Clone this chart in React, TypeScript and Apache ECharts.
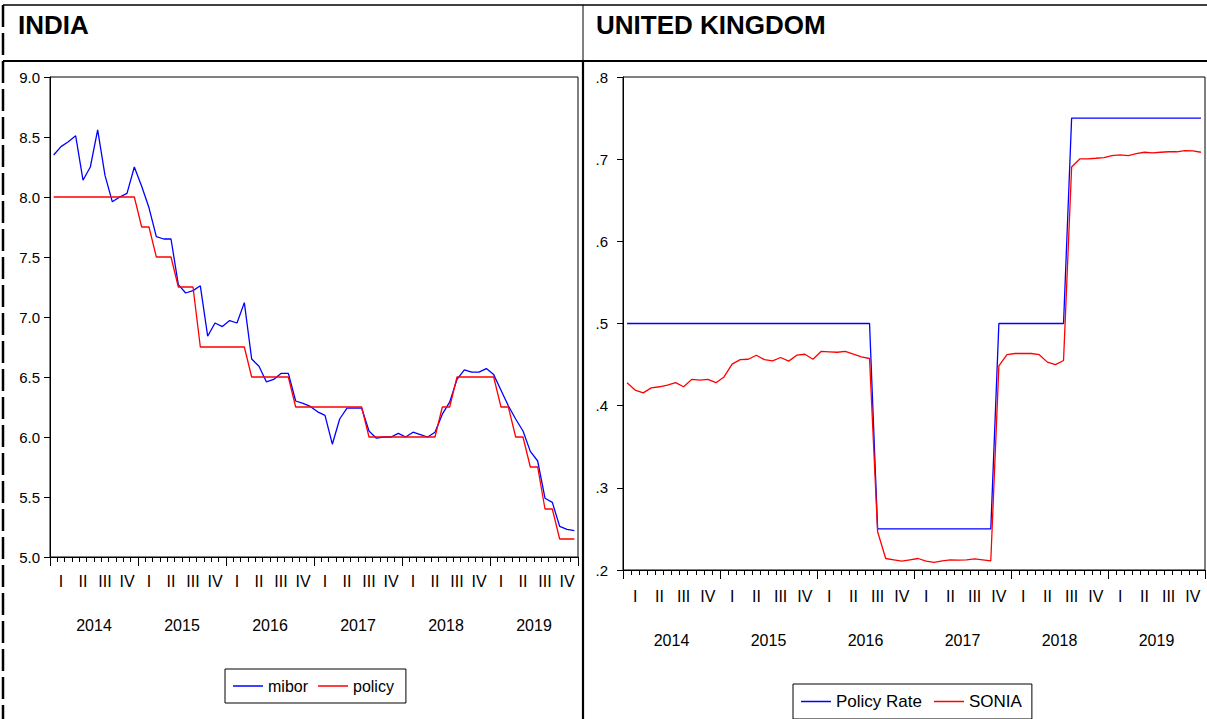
import React, { useEffect, useRef } from 'react';
import * as echarts from 'echarts';

const years = ['2014', '2015', '2016', '2017', '2018', '2019'];
const quarters = ['I', 'II', 'III', 'IV'];
const monthNames = ['Jan', 'Feb', 'Mar', 'Apr', 'May', 'Jun', 'Jul', 'Aug', 'Sep', 'Oct', 'Nov', 'Dec'];

const mibor = [
  8.35, 8.42, 8.46, 8.51, 8.14, 8.25, 8.56, 8.18, 7.96, 8.0, 8.03, 8.25,
  8.09, 7.91, 7.67, 7.65, 7.65, 7.27, 7.2, 7.22, 7.26, 6.84, 6.95, 6.92,
  6.97, 6.95, 7.12, 6.65, 6.59, 6.46, 6.48, 6.53, 6.53, 6.3, 6.28, 6.255,
  6.21, 6.18, 5.94, 6.15, 6.24, 6.24, 6.24, 6.05, 5.99, 6.0, 6.0, 6.03,
  6.0, 6.04, 6.02, 6.0, 6.04, 6.19, 6.29, 6.48, 6.56, 6.54, 6.54, 6.57,
  6.52, 6.39, 6.26, 6.15, 6.05, 5.88, 5.8, 5.49, 5.455, 5.255, 5.23, 5.22,
];
const policy = [
  8.0, 8.0, 8.0, 8.0, 8.0, 8.0, 8.0, 8.0, 8.0, 8.0, 8.0, 8.0,
  7.75, 7.75, 7.5, 7.5, 7.5, 7.25, 7.25, 7.25, 6.75, 6.75, 6.75, 6.75,
  6.75, 6.75, 6.75, 6.5, 6.5, 6.5, 6.5, 6.5, 6.5, 6.25, 6.25, 6.25,
  6.25, 6.25, 6.25, 6.25, 6.25, 6.25, 6.25, 6.0, 6.0, 6.0, 6.0, 6.0,
  6.0, 6.0, 6.0, 6.0, 6.0, 6.25, 6.25, 6.5, 6.5, 6.5, 6.5, 6.5,
  6.5, 6.25, 6.25, 6.0, 6.0, 5.75, 5.75, 5.4, 5.4, 5.15, 5.15, 5.15,
];
const ukPolicyRate = [
  0.5, 0.5, 0.5, 0.5, 0.5, 0.5, 0.5, 0.5, 0.5, 0.5, 0.5, 0.5,
  0.5, 0.5, 0.5, 0.5, 0.5, 0.5, 0.5, 0.5, 0.5, 0.5, 0.5, 0.5,
  0.5, 0.5, 0.5, 0.5, 0.5, 0.5, 0.5, 0.25, 0.25, 0.25, 0.25, 0.25,
  0.25, 0.25, 0.25, 0.25, 0.25, 0.25, 0.25, 0.25, 0.25, 0.25, 0.5, 0.5,
  0.5, 0.5, 0.5, 0.5, 0.5, 0.5, 0.5, 0.75, 0.75, 0.75, 0.75, 0.75,
  0.75, 0.75, 0.75, 0.75, 0.75, 0.75, 0.75, 0.75, 0.75, 0.75, 0.75, 0.75,
];
const sonia = [
  0.428, 0.419, 0.4156, 0.4217, 0.423, 0.425, 0.428, 0.423, 0.432, 0.431, 0.432, 0.428,
  0.435, 0.4505, 0.456, 0.4565, 0.4614, 0.456, 0.4546, 0.4586, 0.4542, 0.4614, 0.4626, 0.4565,
  0.466, 0.4655, 0.465, 0.466, 0.4626, 0.4594, 0.4574, 0.2465, 0.214, 0.2124, 0.2108, 0.2124,
  0.214, 0.2108, 0.2092, 0.211, 0.2124, 0.212, 0.2124, 0.2135, 0.2124, 0.2112, 0.4484, 0.4622,
  0.4635, 0.4635, 0.4635, 0.462, 0.453, 0.45, 0.455, 0.6905, 0.7003, 0.7003, 0.7011, 0.702,
  0.7044, 0.7052, 0.7044, 0.7068, 0.7084, 0.7076, 0.7084, 0.709, 0.709, 0.7105, 0.71, 0.7084,
];

const months = years.flatMap((y) => monthNames.map((m) => `${m} ${y}`));
const quarterCats = years.flatMap((y) => quarters.map((q) => `${q}|${y}`));

const LAB_FONT = "'Liberation Sans', Arial, sans-serif";
const NUM_FONT = "'Liberation Sans', Arial, sans-serif";
const TITLE_FONT = "'Liberation Sans', Arial, sans-serif";

function makeXAxes(gridIndex: number, qMargin: number, yMargin: number) {
  return [
    {
      type: 'category', gridIndex, data: months, boundaryGap: true, position: 'bottom',
      axisLine: { show: true, onZero: false, lineStyle: { color: '#000', width: 1 } },
      axisTick: { show: true, interval: 0, length: 5, lineStyle: { color: '#000', width: 1 } },
      axisLabel: { show: false }, splitLine: { show: false },
    },
    {
      type: 'category', gridIndex, data: quarterCats, boundaryGap: true, position: 'bottom',
      axisLine: { show: false, onZero: false }, axisTick: { show: false }, splitLine: { show: false },
      axisLabel: {
        interval: 0, margin: qMargin, color: '#000', fontFamily: LAB_FONT, fontSize: 16,
        formatter: (v: string) => v.split('|')[0],
      },
    },
    {
      type: 'category', gridIndex, data: years, boundaryGap: true, position: 'bottom',
      axisLine: { show: false, onZero: false }, splitLine: { show: false },
      axisTick: { show: true, interval: 0, length: 9, lineStyle: { color: '#000', width: 1 } },
      axisLabel: { interval: 0, margin: yMargin, color: '#000', fontFamily: LAB_FONT, fontSize: 16 },
    },
  ];
}

const legendBase = {
  orient: 'horizontal',
  icon: 'rect',
  itemWidth: 30,
  itemHeight: 1.5,
  itemGap: 10,
  padding: [9, 12, 9, 8],
  borderColor: '#000',
  borderWidth: 1,
  backgroundColor: '#fff',
  textStyle: { fontFamily: LAB_FONT, fontSize: 16, color: '#000' },
};

export default function App() {
  const ref = useRef<HTMLDivElement>(null);
  useEffect(() => {
    if (!ref.current) return;
    const chart = echarts.init(ref.current, null, { renderer: 'svg' });
    const option = {
      animation: false,
      backgroundColor: '#fff',
      title: [
        { text: 'INDIA', left: 18, top: 12, padding: 0, textStyle: { fontFamily: TITLE_FONT, fontWeight: 'bold', fontSize: 26, color: '#000' } },
        { text: 'UNITED KINGDOM', left: 596, top: 12, padding: 0, textStyle: { fontFamily: TITLE_FONT, fontWeight: 'bold', fontSize: 26, color: '#000' } },
      ],
      grid: [
        { left: 50, top: 77, width: 528, height: 480, show: true, borderColor: '#000', borderWidth: 1, containLabel: false },
        { left: 623, top: 77, width: 582, height: 493, show: true, borderColor: '#000', borderWidth: 1, containLabel: false },
      ],
      xAxis: [...makeXAxes(0, 16, 60), ...makeXAxes(1, 18, 62)],
      yAxis: [
        {
          type: 'value', gridIndex: 0, min: 5, max: 9, interval: 0.5,
          axisLine: { show: true, lineStyle: { color: '#000' } },
          axisTick: { show: true, length: 6, lineStyle: { color: '#000' } },
          splitLine: { show: false },
          axisLabel: { margin: 10, color: '#000', fontFamily: NUM_FONT, fontSize: 15, padding: [0, 0, 6, 0], formatter: (v: number) => v.toFixed(1) },
        },
        {
          type: 'value', gridIndex: 1, min: 0.2, max: 0.8, interval: 0.1,
          axisLine: { show: true, lineStyle: { color: '#000' } },
          axisTick: { show: true, length: 6, lineStyle: { color: '#000' } },
          splitLine: { show: false },
          axisLabel: { margin: 15, color: '#000', fontFamily: NUM_FONT, fontSize: 15, padding: [0, 0, 6, 0], formatter: (v: number) => v.toFixed(1).replace(/^0/, '') },
        },
      ],
      legend: [
        { ...legendBase, data: ['mibor', 'policy'], left: 225, top: 669 },
        {
          ...legendBase, data: ['Policy Rate', 'SONIA'], left: 793, top: 684,
          itemGap: 12, padding: [9, 10, 9, 8],
          textStyle: { fontFamily: LAB_FONT, fontSize: 17, color: '#000' },
        },
      ],
      series: [
        { name: 'mibor', type: 'line', xAxisIndex: 0, yAxisIndex: 0, data: mibor, symbol: 'none', showSymbol: false, lineStyle: { color: '#0000ff', width: 1.3 }, itemStyle: { color: '#0000ff' } },
        { name: 'policy', type: 'line', xAxisIndex: 0, yAxisIndex: 0, data: policy, symbol: 'none', showSymbol: false, lineStyle: { color: '#ff0000', width: 1.3 }, itemStyle: { color: '#ff0000' } },
        { name: 'Policy Rate', type: 'line', xAxisIndex: 3, yAxisIndex: 1, data: ukPolicyRate, symbol: 'none', showSymbol: false, lineStyle: { color: '#0000ff', width: 1.3 }, itemStyle: { color: '#0000ff' } },
        { name: 'SONIA', type: 'line', xAxisIndex: 3, yAxisIndex: 1, data: sonia, symbol: 'none', showSymbol: false, lineStyle: { color: '#ff0000', width: 1.3 }, itemStyle: { color: '#ff0000' } },
      ],
      graphic: [
        { type: 'line', shape: { x1: 3, y1: 5, x2: 1207, y2: 5 }, style: { stroke: '#000', lineWidth: 1.5 } },
        { type: 'line', shape: { x1: 3, y1: 61, x2: 1207, y2: 61 }, style: { stroke: '#000', lineWidth: 2 } },
        { type: 'line', shape: { x1: 583, y1: 5, x2: 583, y2: 61 }, style: { stroke: '#000', lineWidth: 1 } },
        { type: 'line', shape: { x1: 583, y1: 61, x2: 583, y2: 719 }, style: { stroke: '#000', lineWidth: 2.2 } },
        { type: 'line', shape: { x1: 3, y1: 5, x2: 3, y2: 719 }, style: { stroke: '#000', lineWidth: 2.5, lineDash: [22, 6] } },
      ],
    };
    chart.setOption(option as any);
    return () => chart.dispose();
  }, []);
  return (
    <div
      ref={ref}
      style={{ position: 'absolute', left: 0, top: 0, width: 1207, height: 719, background: '#fff' }}
    />
  );
}
